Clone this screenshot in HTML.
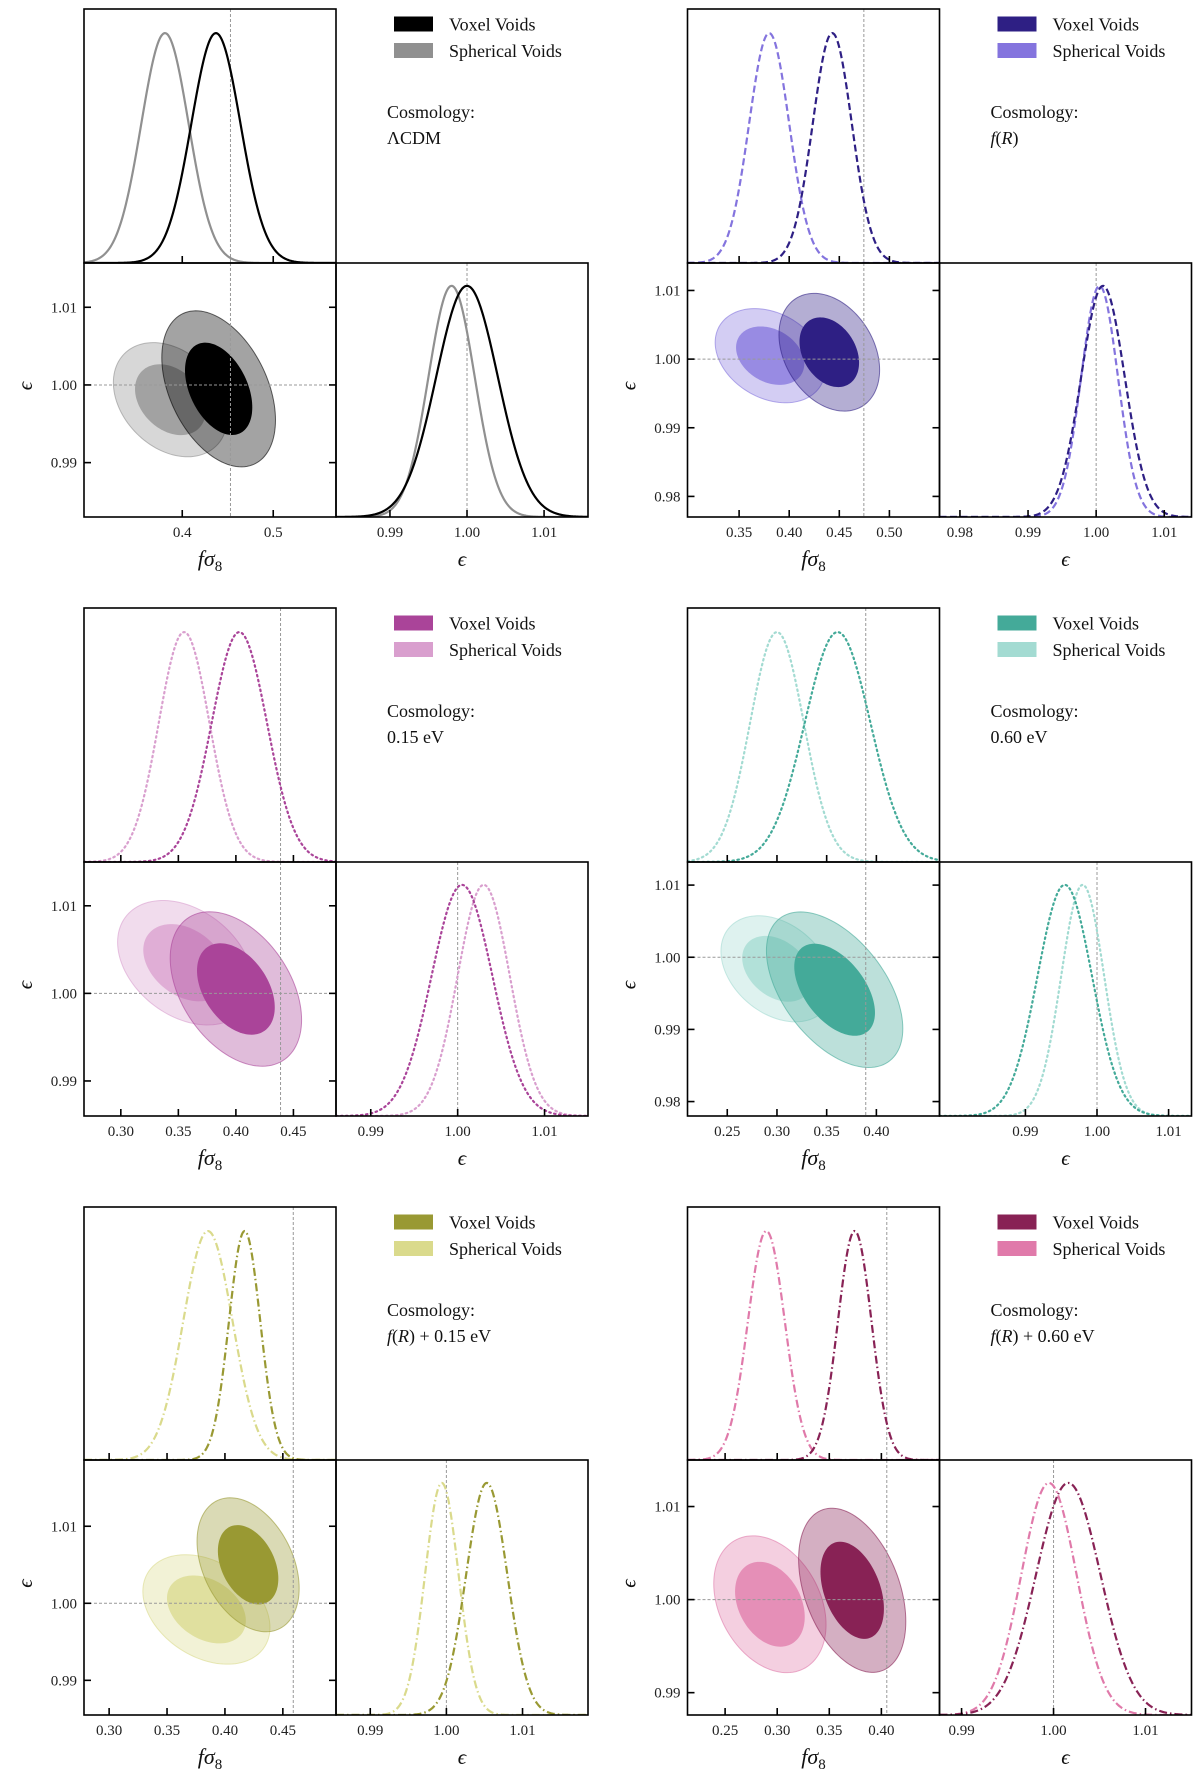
<!DOCTYPE html>
<html><head><meta charset="utf-8"><style>
html,body{margin:0;padding:0;background:#fff;}
svg{display:block;font-family:"Liberation Serif",serif;}
</style></head><body>
<svg id="fig" width="1200" height="1782" viewBox="0 0 1200 1782" xmlns="http://www.w3.org/2000/svg"></svg>
<script>
// ---- data ----
const cosmoLabels = ["ΛCDM", "f(R)", "0.15 eV", "0.60 eV", "f(R) + 0.15 eV", "f(R) + 0.60 eV"];
const voxColors = ["#000000", "#2e1f84", "#aa4499", "#44aa99", "#999933", "#882255"];
const sphColors = ["#909090", "#8474de", "#d99fce", "#a3dbd2", "#dada8c", "#e07aaa"];
const lineStyles = ["solid", "dashed", "dotted", "dotted", "dashdot", "dashdot"];
const fRanges = [[0.292,0.569],[0.2985,0.55],[0.268,0.487],[0.210,0.4635],[0.2783,0.4959],[0.2139,0.4558]];
const eRanges = [[0.983,1.0157],[0.977,1.014],[0.986,1.015],[0.978,1.0132],[0.9855,1.0186],[0.9876,1.015]];
const fTicks = [[0.4,0.5],[0.35,0.40,0.45,0.50],[0.30,0.35,0.40,0.45],[0.25,0.30,0.35,0.40],[0.30,0.35,0.40,0.45],[0.25,0.30,0.35,0.40]];
const fTickLabels = [["0.4","0.5"],["0.35","0.40","0.45","0.50"],["0.30","0.35","0.40","0.45"],["0.25","0.30","0.35","0.40"],["0.30","0.35","0.40","0.45"],["0.25","0.30","0.35","0.40"]];
const eYTicks = [[0.99,1.00,1.01],[0.98,0.99,1.00,1.01],[0.99,1.00,1.01],[0.98,0.99,1.00,1.01],[0.99,1.00,1.01],[0.99,1.00,1.01]];
const eYTickLabels = [["0.99","1.00","1.01"],["0.98","0.99","1.00","1.01"],["0.99","1.00","1.01"],["0.98","0.99","1.00","1.01"],["0.99","1.00","1.01"],["0.99","1.00","1.01"]];
const eXTicks = [[0.99,1.00,1.01],[0.98,0.99,1.00,1.01],[0.99,1.00,1.01],[0.99,1.00,1.01],[0.99,1.00,1.01],[0.99,1.00,1.01]];
const eXTickLabels = [["0.99","1.00","1.01"],["0.98","0.99","1.00","1.01"],["0.99","1.00","1.01"],["0.99","1.00","1.01"],["0.99","1.00","1.01"],["0.99","1.00","1.01"]];
const truthF = [0.453, 0.4745, 0.4388, 0.3893, 0.459, 0.4052];
const truthE = [1.0, 1.0, 1.0, 1.0, 1.0, 1.0];
const voxMeanF = [0.437, 0.443, 0.403, 0.361, 0.417, 0.3744];
const voxSdF = [0.027, 0.0195, 0.024, 0.033, 0.0135, 0.0161];
const sphMeanF = [0.381, 0.380, 0.355, 0.300, 0.3853, 0.2896];
const sphSdF = [0.026, 0.020, 0.022, 0.027, 0.0213, 0.0177];
const voxMeanE = [1.0000, 1.0010, 1.0005, 0.9955, 1.0053, 1.0016];
const voxSdE = [0.0040, 0.0032, 0.0035, 0.0038, 0.0027, 0.0035];
const sphMeanE = [0.9980, 1.0005, 1.0030, 0.9980, 0.9994, 0.9995];
const sphSdE = [0.0030, 0.0027, 0.0030, 0.0030, 0.0022, 0.0030];
const voxCx = [0.440, 0.440, 0.400, 0.358, 0.420, 0.372];
const voxCy = [0.9995, 1.0010, 1.0005, 0.9955, 1.0050, 1.0010];
const voxSx = [0.0255, 0.0205, 0.0233, 0.028, 0.018, 0.021];
const voxSy = [0.0041, 0.0035, 0.0036, 0.0044, 0.00355, 0.0036];
const voxRho = [-0.4, -0.3, -0.4, -0.5, -0.35, -0.38];
const sphCx = [0.387, 0.381, 0.356, 0.300, 0.384, 0.293];
const sphCy = [0.9981, 1.0005, 1.0035, 0.9984, 0.9992, 0.9995];
const sphSx = [0.0256, 0.0224, 0.024, 0.023, 0.0224, 0.022];
const sphSy = [0.0030, 0.0028, 0.0029, 0.0030, 0.0029, 0.0030];
const sphRho = [-0.3, -0.28, -0.33, -0.33, -0.33, -0.3];

// ---- layout ----
const colX = [84, 687.5];
const rowY = [[9,263,517],[608,862,1116],[1207,1460,1715]];
const W = 252;
const NS = "http://www.w3.org/2000/svg";
const svg = document.getElementById('fig');
function mk(tag, attrs, parent){
  const el = document.createElementNS(NS, tag);
  for (const k in attrs) el.setAttribute(k, attrs[k]);
  (parent||svg).appendChild(el);
  return el;
}
function dash(style){
  if (style==='dashed') return '7,3.5';
  if (style==='dotted') return '1.5,3.5';
  if (style==='dashdot') return '8,3,1.5,3';
  return 'none';
}
function gauss(x,m,s){ return Math.exp(-0.5*((x-m)/s)**2); }

for (let i=0;i<6;i++){
  const X0 = colX[i%2];
  const r = rowY[Math.floor(i/2)];
  const top=r[0], mid=r[1], bot=r[2];
  const [f0,f1] = fRanges[i], [e0,e1] = eRanges[i];
  const fx = v => X0 + (v-f0)/(f1-f0)*W;
  const exR = v => X0 + W + (v-e0)/(e1-e0)*W;
  const ey = v => bot - (v-e0)/(e1-e0)*(bot-mid);
  const g = mk('g', {});
  
  

  const cid = 'c'+i;
  const defs = mk('defs', {}, g);
  const cp1 = mk('clipPath', {id: cid+'a'}, defs); mk('rect', {x:X0, y:top, width:W, height:mid-top}, cp1);
  const cp2 = mk('clipPath', {id: cid+'b'}, defs); mk('rect', {x:X0, y:mid, width:W, height:bot-mid}, cp2);
  const cp3 = mk('clipPath', {id: cid+'c'}, defs); mk('rect', {x:X0+W, y:mid, width:W, height:bot-mid}, cp3);

  // --- top marginal ---
  const gt = mk('g', {'clip-path':'url(#'+cid+'a)'}, g);
  
  
  mk('line', {x1:fx(truthF[i]), x2:fx(truthF[i]), y1:top, y2:mid, stroke:'#999', 'stroke-width':1, 'stroke-dasharray':'3,2'}, gt);
  const hT = (mid-top)*0.905;
  [[sphMeanF[i],sphSdF[i],sphColors[i],'spherical'],[voxMeanF[i],voxSdF[i],voxColors[i],'voxel']].forEach(([m,s,c,nm])=>{
    let d='';
    for (let k=0;k<=300;k++){ const v=f0+(f1-f0)*k/300; d+=(k?'L':'M')+fx(v).toFixed(2)+','+(mid-hT*gauss(v,m,s)).toFixed(2); }
    const p = mk('path', {d, fill:'none', stroke:c, 'stroke-width':2.2, 'stroke-dasharray':dash(lineStyles[i]), 'stroke-linecap':lineStyles[i]==='dotted'?'round':'butt'}, gt);
    
    
  });

  // --- lower right marginal ---
  const gr = mk('g', {'clip-path':'url(#'+cid+'c)'}, g);
  
  
  mk('line', {x1:exR(truthE[i]), x2:exR(truthE[i]), y1:mid, y2:bot, stroke:'#999', 'stroke-width':1, 'stroke-dasharray':'3,2'}, gr);
  const hR = (bot-mid)*0.91;
  [[sphMeanE[i],sphSdE[i],sphColors[i],'spherical'],[voxMeanE[i],voxSdE[i],voxColors[i],'voxel']].forEach(([m,s,c,nm])=>{
    let d='';
    for (let k=0;k<=300;k++){ const v=e0+(e1-e0)*k/300; d+=(k?'L':'M')+exR(v).toFixed(2)+','+(bot-hR*gauss(v,m,s)).toFixed(2); }
    const p = mk('path', {d, fill:'none', stroke:c, 'stroke-width':2.2, 'stroke-dasharray':dash(lineStyles[i]), 'stroke-linecap':lineStyles[i]==='dotted'?'round':'butt'}, gr);
    
    
  });

  // --- 2D contours ---
  const gc = mk('g', {'clip-path':'url(#'+cid+'b)'}, g);
  
  
  function ell(cx,cy,sx,sy,rho,k){
    let d=''; const q=Math.sqrt(1-rho*rho);
    for (let j=0;j<=120;j++){ const t=2*Math.PI*j/120;
      const x=cx+k*sx*Math.cos(t), y=cy+k*sy*(rho*Math.cos(t)+q*Math.sin(t));
      d+=(j?'L':'M')+fx(x).toFixed(2)+','+ey(y).toFixed(2); }
    return d+'Z';
  }
  const s95 = mk('path', {d:ell(sphCx[i],sphCy[i],sphSx[i],sphSy[i],sphRho[i],2.45), fill:sphColors[i], 'fill-opacity':0.36, stroke:sphColors[i], 'stroke-opacity':0.6, 'stroke-width':1}, gc);
  
  
  const s68 = mk('path', {d:ell(sphCx[i],sphCy[i],sphSx[i],sphSy[i],sphRho[i],1.52), fill:sphColors[i], 'fill-opacity':0.75}, gc);
  
  
  const v95 = mk('path', {d:ell(voxCx[i],voxCy[i],voxSx[i],voxSy[i],voxRho[i],2.45), fill:voxColors[i], 'fill-opacity':0.36, stroke:voxColors[i], 'stroke-opacity':0.6, 'stroke-width':1}, gc);
  
  
  const v68 = mk('path', {d:ell(voxCx[i],voxCy[i],voxSx[i],voxSy[i],voxRho[i],1.45), fill:voxColors[i], 'fill-opacity':1}, gc);
  
  
  mk('line', {x1:fx(truthF[i]), x2:fx(truthF[i]), y1:mid, y2:bot, stroke:'#999', 'stroke-width':1, 'stroke-dasharray':'3,2'}, gc);
  mk('line', {x1:X0, x2:X0+W, y1:ey(truthE[i]), y2:ey(truthE[i]), stroke:'#999', 'stroke-width':1, 'stroke-dasharray':'3,2'}, gc);

  // --- frames ---
  [[X0,top,W,mid-top],[X0,mid,W,bot-mid],[X0+W,mid,W,bot-mid]].forEach(([x,y,w,h],n)=>{
    const fr = mk('rect', {x, y, width:w, height:h, fill:'none', stroke:'#000', 'stroke-width':1.6}, g);
    
    
  });

  // --- ticks ---
  const tl = 7;
  fTicks[i].forEach((v,n)=>{
    const x = fx(v);
    mk('line', {x1:x, x2:x, y1:mid, y2:mid-tl, stroke:'#000', 'stroke-width':1.6}, g);
    mk('line', {x1:x, x2:x, y1:bot, y2:bot-tl, stroke:'#000', 'stroke-width':1.6}, g);
    const t = mk('text', {x, y:bot+20, 'text-anchor':'middle', 'font-size':15, fill:'#222'}, g);
    t.textContent = fTickLabels[i][n];
    
    
  });
  eYTicks[i].forEach((v,n)=>{
    const y = ey(v);
    mk('line', {x1:X0, x2:X0+tl, y1:y, y2:y, stroke:'#000', 'stroke-width':1.6}, g);
    mk('line', {x1:X0+W, x2:X0+W-tl, y1:y, y2:y, stroke:'#000', 'stroke-width':1.6}, g);
    const t = mk('text', {x:X0-7, y:y+5, 'text-anchor':'end', 'font-size':15, fill:'#222'}, g);
    t.textContent = eYTickLabels[i][n];
    
    
  });
  eXTicks[i].forEach((v,n)=>{
    const x = exR(v);
    mk('line', {x1:x, x2:x, y1:bot, y2:bot-tl, stroke:'#000', 'stroke-width':1.6}, g);
    const t = mk('text', {x, y:bot+20, 'text-anchor':'middle', 'font-size':15, fill:'#222'}, g);
    t.textContent = eXTickLabels[i][n];
    
    
  });

  // --- axis labels ---
  const xl = mk('text', {x:X0+W/2, y:bot+49, 'text-anchor':'middle', 'font-size':22, fill:'#111'}, g);
  xl.innerHTML = '<tspan font-style="italic">fσ</tspan><tspan font-size="15" dy="5">8</tspan>';
  
  
  const xl2 = mk('text', {x:X0+1.5*W, y:bot+49, 'text-anchor':'middle', 'font-size':21, 'font-style':'italic', fill:'#111'}, g);
  xl2.textContent = 'ϵ';
  
  
  const yl = mk('text', {x:0, y:0, 'text-anchor':'middle', 'font-size':21, 'font-style':'italic', fill:'#111', transform:'translate('+(X0-52)+','+((mid+bot)/2-4)+') rotate(-90)'}, g);
  yl.textContent = 'ϵ';
  
  

  // --- legend ---
  const lg = mk('g', {}, g);
  
  
  [[voxColors[i],'Voxel Voids',0],[sphColors[i],'Spherical Voids',1]].forEach(([c,lab,n])=>{
    const rc = mk('rect', {x:X0+310, y:top+7.5+n*26.5, width:39, height:15, fill:c}, lg);
    
    
    const t = mk('text', {x:X0+365, y:top+21.5+n*26.5, 'font-size':18, fill:'#111'}, lg);
    t.textContent = lab;
    
    
  });
  const c1 = mk('text', {x:X0+303, y:top+109, 'font-size':18, fill:'#111'}, g);
  c1.textContent = 'Cosmology:';
  
  
  const c2 = mk('text', {x:X0+303, y:top+135, 'font-size':18, fill:'#111'}, g);
  c2.innerHTML = cosmoLabels[i].replace('f(R)', '<tspan font-style="italic">f</tspan>(<tspan font-style="italic">R</tspan>)');
  
  
}
</script>
</body></html>
